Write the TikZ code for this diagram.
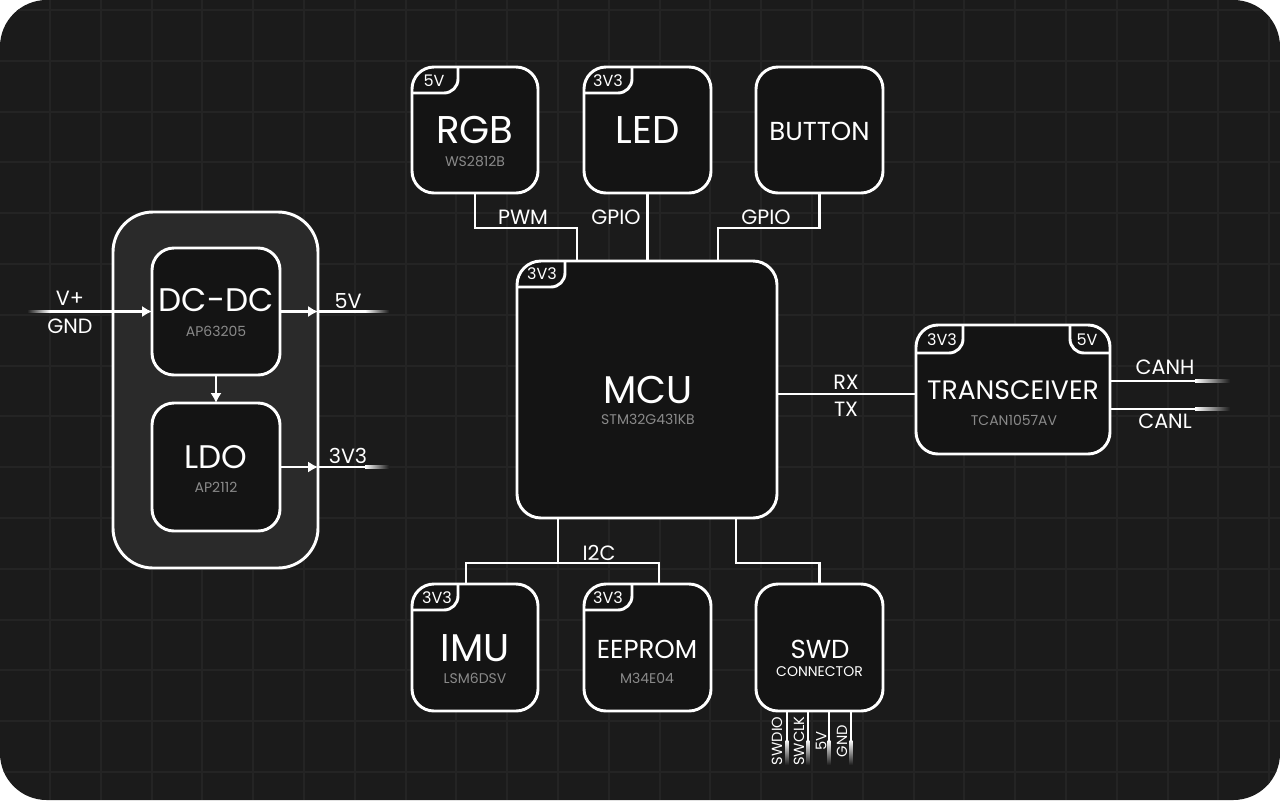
\documentclass[tikz,border=0pt]{standalone}
\usepackage{fontspec}
\setmainfont{Poppins}
\usetikzlibrary{calc,arrows.meta}
\definecolor{bgc}{HTML}{1B1B1B}
\definecolor{gridc}{HTML}{242424}
\definecolor{boxc}{HTML}{141414}
\definecolor{grpc}{HTML}{2A2A2A}
\definecolor{subc}{HTML}{8A8A8A}
\newcommand\fsz[1]{\fontsize{#1}{#1}\selectfont}
\begin{document}
\begin{tikzpicture}[x=0.75pt,y=-0.75pt,
  box/.style 2 args={draw=white, line width=2.2pt, fill=boxc, rounded corners=16.5pt,
    minimum width=#1*0.75pt, minimum height=#2*0.75pt, inner sep=0pt, outer sep=0pt, anchor=north west},
  txt/.style={text=white, inner sep=0pt, anchor=center},
  bigt/.style={txt, font=\fsz{29}},
  midt/.style={txt, font=\fsz{24.5}},
  smlt/.style={txt, font=\fsz{19.5}},
  subt/.style={txt, text=subc, font=\fsz{10.5}},
  lbl/.style={txt, font=\fsz{15.5}},
  tagt/.style={txt, font=\fsz{12}},
  pint/.style={txt, font=\fsz{11}, rotate=90},
  wire/.style={draw=white, line width=2.1pt},
  tagl/.style={draw=white, line width=2.2pt, rounded corners=10.5pt},
  arr/.style={wire, -{Latex[length=7.5pt,width=8.5pt]}},
  fadeh/.style={left color=white, right color=bgc},
  fadev/.style={top color=white, bottom color=bgc},
]
\useasboundingbox (0,0) rectangle (1280,800);
% background
\fill[white] (0,0) rectangle (1280,800);
\fill[bgc, rounded corners=35pt] (0,0) rectangle (1280,800);
\begin{scope}
  \clip[rounded corners=35pt] (0,0) rectangle (1280,800);
  \foreach \i in {0,...,24} \draw[gridc, line width=1.6pt] (50+\i*50.8,0) -- ++(0,800);
  \foreach \j in {0,...,15} \draw[gridc, line width=1.6pt] (0,10+\j*50.8) -- ++(1280,0);
\end{scope}

% ===== power group =====
\node[box={205}{356}, fill=grpc, rounded corners=30pt] (grp) at (113,212) {};
\node[box={128}{127}] (dcdc) at (152,248) {};
\node[box={128}{128}] (ldo) at (152,403) {};
\node[midt] (dcdcT) at (216,300) {DC-DC};
\node[subt] (dcdcS) at (216,331) {AP63205};
\node[midt] (ldoT) at (216,457) {LDO};
\node[subt] (ldoS) at (216,487) {AP2112};
\draw[arr] (dcdc.south) -- (ldo.north);

\coordinate (vinA) at (27,311.5);
\coordinate (vinB) at (50,311.5);
\shade[left color=bgc, right color=white] ($(vinA)+(0,-1.4)$) rectangle ($(vinB)+(0,1.4)$);
\draw[arr] (vinB) -- (dcdc.west);
\node[lbl] (vp) at (70,298) {V+};
\node[lbl] (gnd) at (70,326) {GND};

\coordinate (o5A) at (365,311.5);
\coordinate (o5B) at (389,311.5);
\draw[arr] (dcdc.east) -- (grp.east |- dcdc.east);
\draw[wire] (grp.east |- dcdc.east) -- (o5A);
\shade[fadeh] ($(o5A)+(0,-1.4)$) rectangle ($(o5B)+(0,1.4)$);
\node[lbl] (l5v) at (348,301) {5V};

\coordinate (o3A) at (365,467);
\coordinate (o3B) at (389,467);
\draw[arr] (ldo.east) -- (grp.east |- ldo.east);
\draw[wire] (grp.east |- ldo.east) -- (o3A);
\shade[fadeh] ($(o3A)+(0,-1.4)$) rectangle ($(o3B)+(0,1.4)$);
\node[lbl] (l3v) at (348,456) {3V3};

% ===== top row =====
\node[box={126}{126}] (rgb) at (412,67) {};
\node[box={127}{126}] (led) at (584,67) {};
\node[box={127}{126}] (btn) at (756,67) {};
\draw[tagl] ($(rgb.north west)+(46,0)$) |- ($(rgb.north west)+(0,26)$);
\draw[tagl] ($(led.north west)+(48,0)$) |- ($(led.north west)+(0,26)$);
\node[tagt] (rgbTag) at (434,81) {5V};
\node[tagt] (ledTag) at (608,81) {3V3};
\node[bigt] (rgbT) at (475,130) {RGB};
\node[subt] (rgbS) at (475,161) {WS2812B};
\node[bigt] (ledT) at (647.5,130) {LED};
\node[smlt] (btnT) at (819.5,131) {BUTTON};

% ===== MCU =====
\node[box={260}{257}, rounded corners=18pt] (mcu) at (517,261) {};
\draw[tagl] ($(mcu.north west)+(48,0)$) |- ($(mcu.north west)+(0,26)$);
\node[tagt] (mcuTag) at (542,274) {3V3};
\node[bigt] (mcuT) at (648,390) {MCU};
\node[subt] (mcuS) at (648,419) {STM32G431KB};

% top connectors
\coordinate (jr) at (577,228);
\coordinate (jb) at (718,228);
\draw[wire] (rgb.south) -- (rgb.south |- jr) -- (jr) -- (jr |- mcu.north);
\draw[wire] (led.south) -- (led.south |- mcu.north);
\draw[wire] (btn.south) -- (btn.south |- jb) -- (jb) -- (jb |- mcu.north);
\node[lbl] (pwm) at (523,217) {PWM};
\node[lbl] (gpio1) at (616,217) {GPIO};
\node[lbl] (gpio2) at (766,217) {GPIO};

% ===== transceiver =====
\node[box={194}{129}] (trx) at (916,325) {};
\draw[tagl] ($(trx.north west)+(47,0)$) |- ($(trx.north west)+(0,28)$);
\draw[tagl] ($(trx.north east)+(-40,0)$) |- ($(trx.north east)+(0,28)$);
\node[tagt] (trxTag1) at (942,340) {3V3};
\node[tagt] (trxTag2) at (1087,340) {5V};
\node[smlt, font=\fsz{20}] (trxT) at (1013,390) {TRANSCEIVER};
\node[subt] (trxS) at (1014,420) {TCAN1057AV};
\coordinate (rxy) at (0,394);
\draw[wire] (mcu.east |- rxy) -- (trx.west |- rxy);
\node[lbl] (rx) at (846,382) {RX};
\node[lbl] (tx) at (846,409) {TX};

\coordinate (chA) at (1195,381);
\coordinate (chB) at (1230,381);
\coordinate (clA) at (1195,409);
\coordinate (clB) at (1230,409);
\draw[wire] (trx.east |- chA) -- (chA);
\shade[fadeh] ($(chA)+(0,-1.4)$) rectangle ($(chB)+(0,1.4)$);
\draw[wire] (trx.east |- clA) -- (clA);
\shade[fadeh] ($(clA)+(0,-1.4)$) rectangle ($(clB)+(0,1.4)$);
\node[lbl] (canh) at (1165,367) {CANH};
\node[lbl] (canl) at (1165,421) {CANL};

% ===== bottom row =====
\node[box={126}{127}] (imu) at (412,584) {};
\node[box={127}{127}] (eep) at (584,584) {};
\node[box={127}{127}] (swd) at (756,584) {};
\draw[tagl] ($(imu.north west)+(46,0)$) |- ($(imu.north west)+(0,26)$);
\draw[tagl] ($(eep.north west)+(48,0)$) |- ($(eep.north west)+(0,26)$);
\node[tagt] (imuTag) at (437,597.5) {3V3};
\node[tagt] (eepTag) at (608,597.5) {3V3};
\node[bigt] (imuT) at (475,648) {IMU};
\node[subt] (imuS) at (475,678) {LSM6DSV};
\node[smlt] (eepT) at (647,649) {EEPROM};
\node[subt] (eepS) at (647,678) {M34E04};
\node[smlt] (swdT) at (820,649) {SWD};
\node[txt, font=\fsz{10.5}] (swdS) at (819.5,672) {CONNECTOR};

% bottom connectors
\coordinate (ji) at (558,563);
\coordinate (jl) at (466,563);
\coordinate (je) at (659,563);
\coordinate (js) at (736,563);
\draw[wire] (ji |- mcu.south) -- (ji);
\draw[wire] (jl |- imu.north) -- (jl) -- (je) -- (je |- eep.north);
\draw[wire] (js |- mcu.south) -- (js) -- (swd.north |- js) -- (swd.north);
\node[lbl] (i2c) at (599,552.5) {I2C};

% SWD pins
\foreach \px/\nm in {787/p1, 808/p2, 829/p3, 851/p4}{
  \coordinate (\nm a) at (\px,740);
  \coordinate (\nm b) at (\px,765);
  \draw[wire] (swd.south -| \nm a) -- (\nm a);
  \shade[fadev] ($(\nm a)+(-1.4,0)$) rectangle ($(\nm b)+(1.4,0)$);
}
\node[pint] (t1) at (777,741) {SWDIO};
\node[pint] (t2) at (799,741) {SWCLK};
\node[pint] (t3) at (821,741) {5V};
\node[pint] (t4) at (842,741) {GND};
\end{tikzpicture}
\end{document}
